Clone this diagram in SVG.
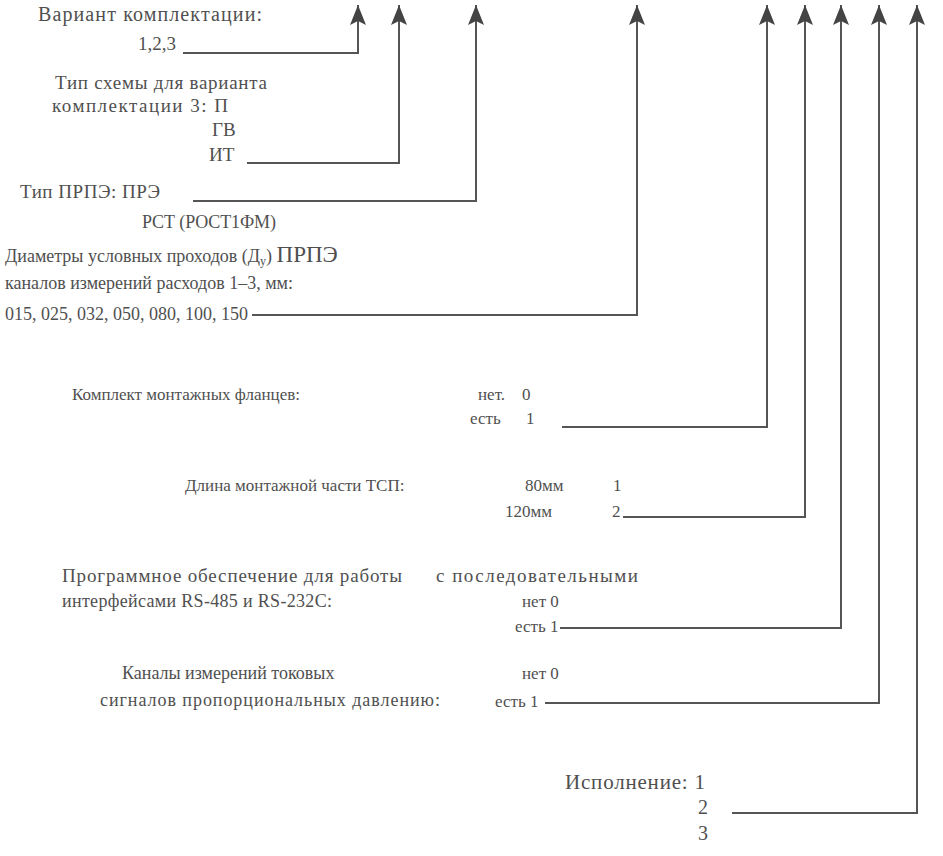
<svg xmlns="http://www.w3.org/2000/svg" width="943" height="856" viewBox="0 0 943 856">
<style>
text{font-family:"Liberation Serif","DejaVu Serif",serif;fill:#505050;font-size:17px}
.f18{font-size:18px}
.f19{font-size:19px}
.f20{font-size:20px}
.f21{font-size:21px}
.big{font-size:23px}
.sub{font-size:12px}
.c{fill:none;stroke:#555;stroke-width:2;marker-end:url(#ah)}
</style>
<defs>
<marker id="ah" viewBox="-21 -9 22 18" refX="0" refY="0" markerWidth="22" markerHeight="18" markerUnits="userSpaceOnUse" orient="auto">
<path d="M0,0 L-20,-8 L-16,0 L-20,8 Z" fill="#444"/>
</marker>
</defs>
<rect width="943" height="856" fill="#ffffff"/>
<g id="variant">
<text class="f20" x="38" y="21" textLength="224" lengthAdjust="spacing">Вариант комплектации:</text>
<text class="f19" x="138" y="50">1,2,3</text>
</g>
<g id="schema">
<text class="f19" x="55" y="89" textLength="212" lengthAdjust="spacing">Тип схемы для варианта</text>
<text class="f19" x="52" y="112" textLength="176" lengthAdjust="spacing">комплектации 3: П</text>
<text class="f19" x="212" y="136">ГВ</text>
<text class="f19" x="209" y="161">ИТ</text>
</g>
<g id="prpe">
<text class="f19" x="20" y="198" textLength="140" lengthAdjust="spacing">Тип ПРПЭ: ПРЭ</text>
<text class="f18" x="142" y="228" textLength="134" lengthAdjust="spacing">РСТ  (РОСТ1ФМ)</text>
</g>
<g id="diam">
<text class="f18" x="5" y="262">Диаметры условных проходов (Д<tspan class="sub" dy="3">у</tspan><tspan dy="-3">) </tspan><tspan class="big">ПРПЭ</tspan></text>
<text class="f18" x="5" y="289">каналов измерений расходов 1–3, мм:</text>
<text class="f18" x="5" y="320">015, 025, 032, 050, 080, 100, 150</text>
</g>
<g id="flanges">
<text x="72" y="400">Комплект монтажных фланцев:</text>
<text x="478" y="400">нет.</text>
<text x="522" y="400">0</text>
<text x="470" y="424">есть</text>
<text x="526" y="424">1</text>
</g>
<g id="tsp">
<text x="185" y="491">Длина монтажной части ТСП:</text>
<text x="525" y="491">80мм</text>
<text x="613" y="491">1</text>
<text x="505" y="517">120мм</text>
<text x="612" y="517">2</text>
</g>
<g id="software">
<text class="f19" x="62" y="582" textLength="340" lengthAdjust="spacing">Программное обеспечение для работы</text>
<text class="f19" x="436" y="582" textLength="202" lengthAdjust="spacing">с последовательными</text>
<text class="f18" x="62" y="607" textLength="270" lengthAdjust="spacing">интерфейсами RS-485 и RS-232C:</text>
<text x="522" y="607">нет  0</text>
<text x="515" y="632">есть  1</text>
</g>
<g id="pressure">
<text class="f18" x="122" y="679">Каналы измерений токовых</text>
<text x="522" y="679">нет 0</text>
<text class="f18" x="100" y="706" textLength="340" lengthAdjust="spacing">сигналов пропорциональных давлению:</text>
<text x="495" y="707">есть 1</text>
</g>
<g id="execution">
<text class="f21" x="565" y="789" textLength="140" lengthAdjust="spacing">Исполнение: 1</text>
<text class="f20" x="698" y="814">2</text>
<text class="f20" x="698" y="840">3</text>
</g>
<g id="connectors">
<path class="c" d="M183,53 H358 V5"/>
<path class="c" d="M247,163 H399 V5"/>
<path class="c" d="M193,201 H476 V5"/>
<path class="c" d="M252,315 H637 V5"/>
<path class="c" d="M562,427 H767 V5"/>
<path class="c" d="M623,517 H805 V5"/>
<path class="c" d="M560,628 H841 V5"/>
<path class="c" d="M545,703 H879 V5"/>
<path class="c" d="M732,813 H917 V5"/>
</g>
</svg>
